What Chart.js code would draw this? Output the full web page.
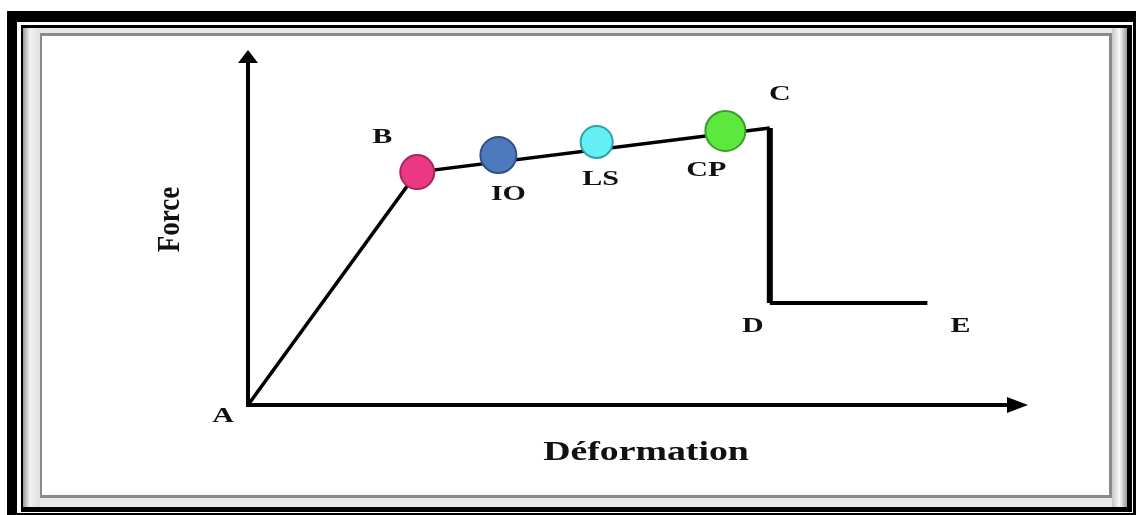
<!DOCTYPE html>
<html>
<head>
<meta charset="utf-8">
<script src="https://cdn.jsdelivr.net/npm/chart.js@4.4.1/dist/chart.umd.min.js"></script>
<style>
  html, body { margin: 0; padding: 0; background: #fff; }
  #wrap { width: 1136px; height: 515px; }
</style>
</head>
<body>
<div id="wrap"><canvas id="chart" width="1136" height="515"></canvas></div>
<script>
// courbe force / déformation (unités arbitraires, 0..100 sur chaque axe)
const curveX = [0, 21.7, 66.9, 66.9, 87.1];
const curveY = [0, 65.6, 78.0, 28.7, 28.7];
const curveLabels = ['A', 'B', 'C', 'D', 'E'];

// niveaux de performance posés sur le palier
const levelX = [21.7, 32.1, 44.7, 61.2];
const levelY = [65.6, 70.4, 74.1, 77.2];
const levelLabels = ['', 'IO', 'LS', 'CP'];
const levelFill = ['#ea3883', '#4d79bd', '#62f0f4', '#5ce83c'];
const levelStroke = ['#a82660', '#2f5088', '#2ca3a8', '#3c9c28'];
const levelRadius = [17, 18, 16, 20];

const axisXTitle = 'Déformation';
const axisYTitle = 'Force';

const toPts = (xs, ys) => xs.map((x, i) => ({ x: x, y: ys[i] }));
const curvePts = toPts(curveX, curveY);

const SERIF = '"Liberation Serif", "Times New Roman", serif';

// texte gras légèrement étiré en largeur
function stretchedText(ctx, txt, x, y, size, sx, rot) {
    ctx.save();
    ctx.translate(x, y);
    ctx.scale(sx, 1);
    if (rot) ctx.rotate(rot);
    ctx.font = 'bold ' + size + 'px ' + SERIF;
    ctx.fillStyle = '#111';
    ctx.textAlign = 'center';
    ctx.textBaseline = 'middle';
    ctx.fillText(txt, 0, 0);
    ctx.restore();
}

const framePlugin = {
    id: 'frame',
    beforeDraw(chart) {
        const ctx = chart.ctx;
        ctx.save();
        ctx.fillStyle = '#fff';
        ctx.fillRect(0, 0, 1136, 515);
        ctx.fillStyle = '#000';
        ctx.fillRect(7, 11, 1129, 504);
        ctx.fillStyle = '#fff';
        ctx.fillRect(17, 22, 1116, 491);
        ctx.fillStyle = '#000';
        ctx.fillRect(21, 25, 1111, 487);
        ctx.fillStyle = '#e8e8e8';
        ctx.fillRect(23, 28, 1104, 479);
        // dégradé sur les côtés gauche et droit du cadre
        const gl = ctx.createLinearGradient(23, 0, 40, 0);
        gl.addColorStop(0, '#9a9a9a');
        gl.addColorStop(0.4, '#f2f2f2');
        gl.addColorStop(1, '#e0e0e0');
        ctx.fillStyle = gl;
        ctx.fillRect(23, 28, 17, 479);
        const gr = ctx.createLinearGradient(1112, 0, 1127, 0);
        gr.addColorStop(0, '#c8c8c8');
        gr.addColorStop(0.5, '#fafafa');
        gr.addColorStop(1, '#9a9a9a');
        ctx.fillStyle = gr;
        ctx.fillRect(1112, 28, 15, 479);
        ctx.fillStyle = '#8a8a8a';
        ctx.fillRect(40, 33, 1072, 465);
        ctx.fillStyle = '#fff';
        ctx.fillRect(42, 36, 1067, 459);
        ctx.restore();
    },
    beforeDatasetsDraw(chart) {
        const ctx = chart.ctx;
        const xs = chart.scales.x, ys = chart.scales.y;
        const x0 = xs.getPixelForValue(0), y0 = ys.getPixelForValue(0);
        const x1 = xs.getPixelForValue(100), y1 = ys.getPixelForValue(100);
        ctx.save();
        ctx.strokeStyle = '#000';
        ctx.fillStyle = '#000';
        ctx.lineWidth = 4;
        ctx.lineCap = 'butt';
        ctx.beginPath();
        ctx.moveTo(x0, y0 + 2);
        ctx.lineTo(x0, y1 + 10);
        ctx.moveTo(x0 - 2, y0);
        ctx.lineTo(x1 - 18, y0);
        ctx.stroke();
        // pointes de flèches
        ctx.beginPath();
        ctx.moveTo(x0, y1);
        ctx.lineTo(x0 - 10, y1 + 13);
        ctx.lineTo(x0 + 10, y1 + 13);
        ctx.closePath();
        ctx.fill();
        ctx.beginPath();
        ctx.moveTo(x1, y0);
        ctx.lineTo(x1 - 21, y0 - 8);
        ctx.lineTo(x1 - 21, y0 + 8);
        ctx.closePath();
        ctx.fill();
        ctx.restore();
    },
    afterDatasetsDraw(chart) {
        const ctx = chart.ctx;
        const xs = chart.scales.x, ys = chart.scales.y;
        const levelMeta = chart.getDatasetMeta(0).data;
        const curveOff = [[-25, 12], [-35, -34], [10, -33], [-17, 24], [33, 24]];
        const levelOff = [[0, 0], [10, 40], [4, 38], [-19, 40]];
        curveLabels.forEach((t, i) => {
            const px = xs.getPixelForValue(curveX[i]);
            const py = ys.getPixelForValue(curveY[i]);
            stretchedText(ctx, t, px + curveOff[i][0], py + curveOff[i][1], 20, 1.5);
        });
        levelLabels.forEach((t, i) => {
            if (!t) return;
            const p = levelMeta[i];
            stretchedText(ctx, t, p.x + levelOff[i][0], p.y + levelOff[i][1], 20, 1.5);
        });
        stretchedText(ctx, axisXTitle, (xs.left + xs.right) / 2 + 8, ys.bottom + 48, 27, 1.4);
        stretchedText(ctx, axisYTitle, xs.left - 77, (ys.top + ys.bottom) / 2 - 8, 27, 1.15, -Math.PI / 2);
    }
};

new Chart(document.getElementById('chart'), {
    type: 'scatter',
    data: {
        datasets: [
            {
                label: 'niveaux',
                data: toPts(levelX, levelY),
                showLine: false,
                pointRadius: levelRadius,
                backgroundColor: levelFill,
                borderColor: levelStroke,
                borderWidth: 2
            },
            {
                label: 'A-B-C',
                data: curvePts.slice(0, 3),
                showLine: true,
                borderColor: '#000',
                borderWidth: 3.5,
                pointRadius: 0,
                borderJoinStyle: 'miter'
            },
            {
                label: 'C-D',
                data: curvePts.slice(2, 4),
                showLine: true,
                borderColor: '#000',
                borderWidth: 6,
                pointRadius: 0
            },
            {
                label: 'D-E',
                data: curvePts.slice(3, 5),
                showLine: true,
                borderColor: '#000',
                borderWidth: 4,
                pointRadius: 0
            }
        ]
    },
    options: {
        responsive: false,
        animation: false,
        devicePixelRatio: 1,
        layout: { padding: { left: 248, right: 108, top: 50, bottom: 110 } },
        scales: {
            x: { type: 'linear', min: 0, max: 100, display: false },
            y: { type: 'linear', min: 0, max: 100, display: false }
        },
        plugins: { legend: { display: false }, tooltip: { enabled: false } }
    },
    plugins: [framePlugin]
});
</script>
</body>
</html>
